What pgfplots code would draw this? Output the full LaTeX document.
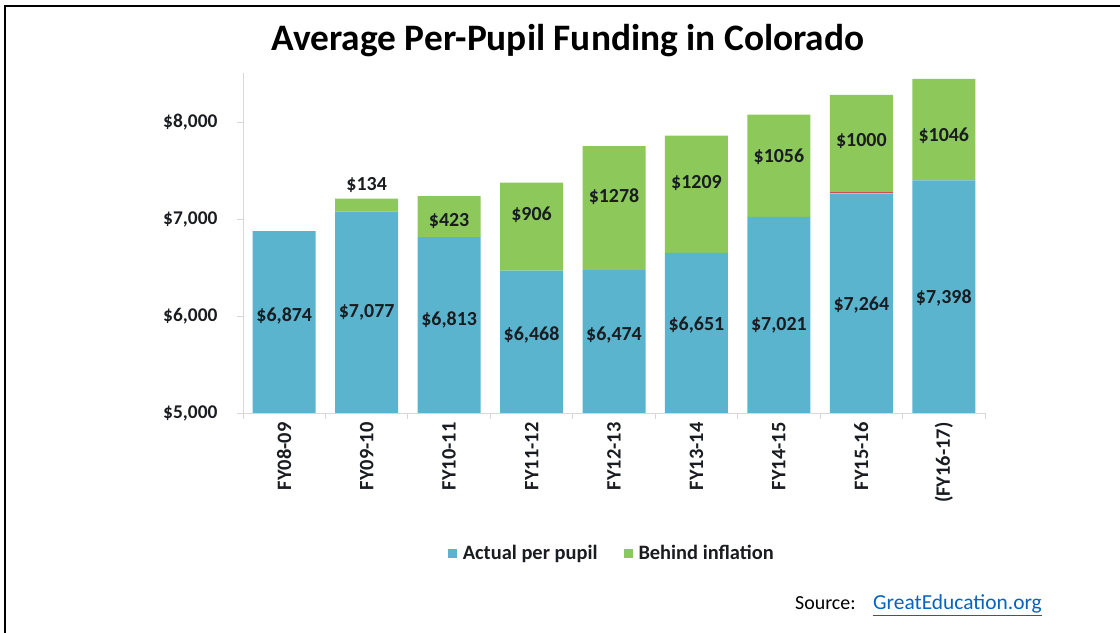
\documentclass[border=0pt]{standalone}
\usepackage{pgfplots}
\pgfplotsset{compat=1.18}
\usepackage{fontspec}
\setmainfont{Carlito}

\definecolor{barblue}{RGB}{91,180,206}
\definecolor{bargreen}{RGB}{141,201,90}
\definecolor{barred}{RGB}{205,80,80}
\definecolor{axgray}{RGB}{215,215,215}
\definecolor{labtext}{RGB}{25,28,32}
\definecolor{linkblue}{RGB}{5,99,193}

\pgfplotsset{
  chartbase/.style={
    scale only axis,
    width=742bp, height=340bp,
    at={(243bp,220bp)}, anchor=south west,
    xmin=-0.5, xmax=8.5, ymin=5000, ymax=8505,
  },
}

\begin{document}
\begin{tikzpicture}[x=1bp,y=1bp]
  \useasboundingbox (0,0) rectangle (1120,633);
  \draw[line width=2.2bp] (5,0) -- (5,627) -- (1120,627);

  \node[font=\fontsize{37.5}{42}\selectfont\bfseries] at (568,592)
    {Average Per-Pupil Funding in Colorado};
  \node[anchor=base west, inner sep=0pt, font=\fontsize{20}{24}\selectfont] at (795,23)
    {Source:};
  \node[anchor=base west, inner sep=0pt, font=\fontsize{21.5}{24}\selectfont] at (873,23)
    {\textcolor{linkblue}{\underline{GreatEducation.org}}};

  % bars
  \begin{axis}[
    chartbase,
    ybar stacked, bar width=63bp,
    axis x line*=bottom, axis y line*=left,
    axis line style={axgray, line width=0.9bp},
    tick align=outside,
    major tick length=6bp, minor tick length=6bp,
    ytick={5000,6000,7000,8000},
    yticklabels={{\$5,000},{\$6,000},{\$7,000},{\$8,000}},
    y tick style={axgray, line width=0.9bp},
    xtick={0,...,8},
    xticklabels={FY08-09,FY09-10,FY10-11,FY11-12,FY12-13,FY13-14,FY14-15,FY15-16,(FY16-17)},
    major x tick style={draw=none},
    minor xtick={-0.5,0.5,...,8.5},
    minor x tick style={axgray, line width=0.9bp},
    ticklabel style={font=\fontsize{19.5}{22}\selectfont\bfseries, text=labtext},
    xticklabel style={rotate=90, anchor=east, font=\fontsize{20.5}{22}\selectfont\bfseries},
    yticklabel style={xshift=-16bp},
    legend style={at={(0.497,-0.412)}, anchor=center, draw=none,
      font=\fontsize{20.5}{24}\selectfont\bfseries, text=labtext},
    legend columns=2,
    /tikz/every odd column/.append style={column sep=4bp},
    /tikz/every even column/.append style={column sep=24bp},
    legend image code/.code={\path[#1] (0bp,-4.5bp) rectangle (9bp,4.5bp);},
  ]
    \addplot[fill=barblue, draw=none] coordinates {
      (0,6874) (1,7077) (2,6813) (3,6468) (4,6474) (5,6651) (6,7021) (7,7264) (8,7398)};
    \addplot[fill=barred, draw=none, forget plot] coordinates {
      (0,0) (1,0) (2,0) (3,0) (4,0) (5,0) (6,0) (7,15) (8,0)};
    \addplot[fill=bargreen, draw=none] coordinates {
      (0,0) (1,134) (2,423) (3,906) (4,1278) (5,1209) (6,1056) (7,1000) (8,1046)};
    \legend{Actual per pupil, Behind inflation}
  \end{axis}

  % value labels
  \begin{axis}[
    chartbase, hide axis,
    nodes near coords, point meta=explicit symbolic,
    every node near coord/.style={anchor=center, inner sep=0pt,
      font=\fontsize{20}{24}\selectfont\bfseries, text=labtext},
  ]
    \addplot[draw=none, mark=none] coordinates {
      (0,6000) [\$6,874] (1,6041) [\$7,077] (2,5959) [\$6,813]
      (3,5804) [\$6,468] (4,5804) [\$6,474] (5,5907) [\$6,651]
      (6,5907) [\$7,021] (7,6113) [\$7,264] (8,6186) [\$7,398]};
    \addplot[draw=none, mark=none] coordinates {
      (1,7351) [\$134] (2,6979) [\$423] (3,7041) [\$906]
      (4,7227) [\$1278] (5,7371) [\$1209] (6,7639) [\$1056]
      (7,7804) [\$1000] (8,7856) [\$1046]};
  \end{axis}
\end{tikzpicture}
\end{document}
